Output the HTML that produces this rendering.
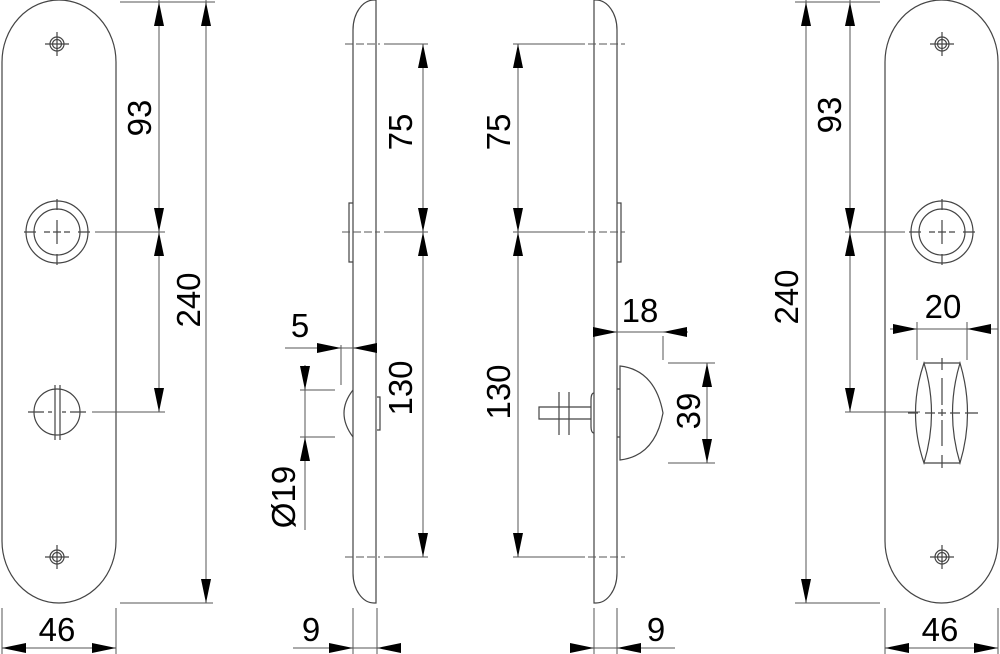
<!DOCTYPE html>
<html><head><meta charset="utf-8"><style>
html,body{margin:0;padding:0;background:#fff;}
svg{display:block;}
text{font-family:"Liberation Sans",sans-serif;font-size:33px;fill:#000;}
</style></head><body>
<svg width="1000" height="654" viewBox="0 0 1000 654" xmlns="http://www.w3.org/2000/svg">
<g fill="none" stroke="#444" stroke-width="1.2">
<path d="M2,62 A57,62 0 0 1 116,62 L116,541 A57,62 0 0 1 2,541 Z"/>
<circle cx="57" cy="44" r="7"/><circle cx="57" cy="44" r="4.5"/>
<path d="M45,44H69M57,32V56"/>
<circle cx="57" cy="557" r="7"/><circle cx="57" cy="557" r="4.5"/>
<path d="M45,557H69M57,545V569"/>
<circle cx="57" cy="232" r="31"/><circle cx="57" cy="232" r="23"/>
<path d="M24,232H36M44,232H50M53,232H61M64,232H70M78,232H90M57,199V210M57,220V244M57,254V265" />
<circle cx="57" cy="412" r="23"/>
<path d="M55,385V440M60,385V440"/>
<path d="M28,412H44M48,412H52M62,412H66M70,412H86"/>
<path d="M885,62 A56.5,62 0 0 1 998,62 L998,541 A56.5,62 0 0 1 885,541 Z"/>
<circle cx="942" cy="44" r="7"/><circle cx="942" cy="44" r="4.5"/>
<path d="M930,44H954M942,32V56"/>
<circle cx="942" cy="557" r="7"/><circle cx="942" cy="557" r="4.5"/>
<path d="M930,557H954M942,545V569"/>
<circle cx="942" cy="232" r="31"/><circle cx="942" cy="232" r="23"/>
<path d="M909,232H921M929,232H935M938,232H946M949,232H955M963,232H975M942,199V210M942,220V244M942,254V265"/>
<path d="M924,363H960M924,463H960"/>
<path d="M924,363 Q907,413 924,463 Q939,413 924,363Z"/>
<path d="M960,363 Q945,413 960,463 Q975,413 960,363Z"/>
<path d="M942,358V370M942,378V405M942,409V416M942,420V446M942,455V468"/>
<path d="M908,413H918M925,413H935M938,413H946M950,413H960M965,413H978"/>
<path d="M376,0 V603 H374 A21,30 0 0 1 353,573 V30 A21,30 0 0 1 374,0 Z"/>
<path d="M353,203 H349 V262 H353"/>
<path d="M353,390 Q335,413 353,437"/>
<path d="M377,397 H380 V430 H377"/>
<path d="M594,0 V603 H596 A21,30 0 0 0 617,573 V30 A21,30 0 0 0 596,0 Z"/>
<path d="M617,203 H621 V262 H617"/>
<path d="M620,460 V366 Q655,370 663,413 Q655,456 620,460 Z" />
<path d="M617,389H620M617,437H620"/>
<path d="M594,393 Q591,393 591,400 V426 Q591,433 594,433"/>
<path d="M591,407 H539 V419 H591"/>
<path d="M559,392V435M569,392V435"/>
</g>
<g fill="none" stroke="#555" stroke-width="1">
<path d="M120,2H215M120,603H213M95,232H165M92,412H165M159,0V412M206,0V603"/>
<path d="M2,608V654M116,608V654M2,648H116"/>
<path d="M795,2H880M795,603H880M845,232H905M845,412H920M850,0V412M806,0V603"/>
<path d="M885,608V654M998,608V654M885,648H998"/>
<path d="M917,322V360M967,322V360M890,329H998"/>
<path d="M384,44H428M384,232H428M384,557H428M423,44V557"/>
<path d="M345,44H380M342,232H380M345,557H380" stroke-dasharray="8,3"/>
<path d="M285,348H377M341,345V385M305,365V530M300,390H335M300,437H335"/>
<path d="M353,608V654M377,608V654M293,648H400"/>
<path d="M513,44H585M513,232H585M513,557H585M518,44V557"/>
<path d="M588,44H625M588,232H625M588,557H625" stroke-dasharray="8,3"/>
<path d="M593,332H688M663,336V360M668,363H715M668,463H715M707,363V463"/>
<path d="M594,608V654M617,608V654M570,648H675"/>
</g>
<g fill="#000" stroke="none">
<polygon points="159,2 154,26 164,26"/><polygon points="159,232 154,208 164,208"/>
<polygon points="159,232 154,256 164,256"/><polygon points="159,412 154,388 164,388"/>
<polygon points="206,2 201,26 211,26"/><polygon points="206,603 201,579 211,579"/>
<polygon points="850,2 845,26 855,26"/><polygon points="850,232 845,208 855,208"/>
<polygon points="850,232 845,256 855,256"/><polygon points="850,412 845,388 855,388"/>
<polygon points="806,2 801,26 811,26"/><polygon points="806,603 801,579 811,579"/>
<polygon points="2,648 26,643 26,653"/><polygon points="116,648 92,643 92,653"/>
<polygon points="885,648 909,643 909,653"/><polygon points="998,648 974,643 974,653"/>
<polygon points="917,329 893,324 893,334"/><polygon points="967,329 991,324 991,334"/>
<polygon points="423,44 418,68 428,68"/><polygon points="423,232 418,208 428,208"/>
<polygon points="423,232 418,256 428,256"/><polygon points="423,557 418,533 428,533"/>
<polygon points="518,44 513,68 523,68"/><polygon points="518,232 513,208 523,208"/>
<polygon points="518,232 513,256 523,256"/><polygon points="518,557 513,533 523,533"/>
<polygon points="341,348 317,343 317,353"/><polygon points="353,348 377,343 377,353"/>
<polygon points="305,390 300,366 310,366"/><polygon points="305,437 300,461 310,461"/>
<polygon points="353,648 329,643 329,653"/><polygon points="377,648 401,643 401,653"/>
<polygon points="594,648 570,643 570,653"/><polygon points="617,648 641,643 641,653"/>
<polygon points="617,332 593,327 593,337"/><polygon points="663,332 687,327 687,337"/>
<polygon points="707,363 702,387 712,387"/><polygon points="707,463 702,439 712,439"/>
</g>
<g>
<text x="151" y="118" text-anchor="middle" transform="rotate(-90 151 118)">93</text>
<text x="200" y="300" text-anchor="middle" transform="rotate(-90 200 300)">240</text>
<text x="841" y="115" text-anchor="middle" transform="rotate(-90 841 115)">93</text>
<text x="798" y="297" text-anchor="middle" transform="rotate(-90 798 297)">240</text>
<text x="412" y="132" text-anchor="middle" transform="rotate(-90 412 132)">75</text>
<text x="412" y="388" text-anchor="middle" transform="rotate(-90 412 388)">130</text>
<text x="510" y="132" text-anchor="middle" transform="rotate(-90 510 132)">75</text>
<text x="510" y="392" text-anchor="middle" transform="rotate(-90 510 392)">130</text>
<text x="295" y="497" text-anchor="middle" transform="rotate(-90 295 497)">Ø19</text>
<text x="700" y="411" text-anchor="middle" transform="rotate(-90 700 411)">39</text>
<text x="57" y="641" text-anchor="middle">46</text>
<text x="940" y="641" text-anchor="middle">46</text>
<text x="311" y="641" text-anchor="middle">9</text>
<text x="656" y="641" text-anchor="middle">9</text>
<text x="300" y="337" text-anchor="middle">5</text>
<text x="640" y="322" text-anchor="middle">18</text>
<text x="943" y="318" text-anchor="middle">20</text>
</g>
</svg>
</body></html>
